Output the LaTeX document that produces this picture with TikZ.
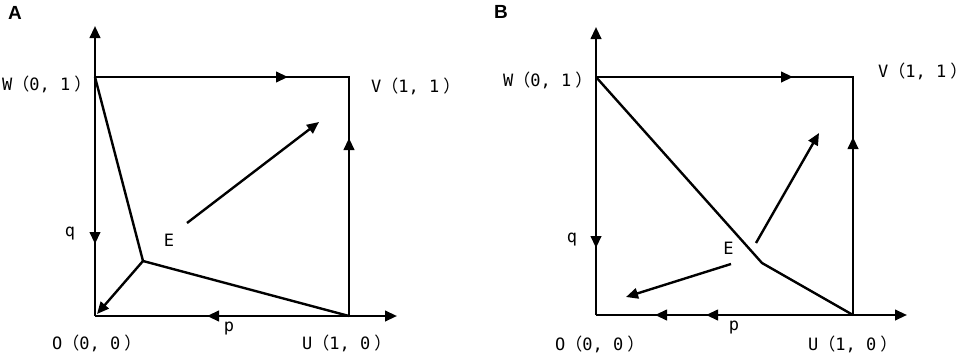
\documentclass[tikz,border=0pt]{standalone}
\usepackage{fontspec}
\setmonofont{DejaVu Sans Mono}
\setsansfont{Liberation Sans}
\newfontfamily\cjkf{Noto Sans CJK SC}
\usetikzlibrary{arrows.meta}
\newcommand{\lp}{{\cjkf （}}
\newcommand{\rp}{\kern4pt{\cjkf ）}\kern-8.5pt}
\tikzset{
  ln/.style={line width=2.4pt, line join=miter, line cap=butt},
  arr/.style={ln, -{Triangle[length=12pt,width=10.5pt]}},
  lbl/.style={font=\ttfamily\fontsize{17}{20}\selectfont, inner sep=0pt},
  panel/.style={font=\sffamily\bfseries\fontsize{19}{22}\selectfont, inner sep=0pt}
}
\begin{document}
\begin{tikzpicture}[x=1pt,y=-1pt]
\useasboundingbox (0,0) rectangle (969,356);
% ---------- Panel A ----------
\node[panel] (A) at (15,12.5) {A};
\coordinate (aO) at (95,316);
\coordinate (aW) at (95,77);
\coordinate (aV) at (349,77);
\coordinate (aU) at (349,316);
\coordinate (aE) at (143,261);
\coordinate (aYt) at (95,26);
\coordinate (aXt) at (397,316);
\coordinate (aTt) at (288,77);
\coordinate (aRt) at (349,138);
\coordinate (aLt) at (95,244);
\coordinate (aBt) at (207,316);
\coordinate (aOt) at (97,314);
\coordinate (aFs) at (187,223);
\coordinate (aFt) at (319,122);
\draw[ln] (aW) -- (aV) -- (aU);
\draw[arr] (aO) -- (aYt);
\draw[arr] (aO) -- (aXt);
\draw[arr] (aW) -- (aTt);
\draw[arr] (aU) -- (aRt);
\draw[arr] (aW) -- (aLt);
\draw[arr] (aU) -- (aBt);
\draw[ln] (aW) -- (aE) -- (aU);
\draw[arr] (aE) -- (aOt);
\draw[arr] (aFs) -- (aFt);
\node[lbl, anchor=west] (aWl) at (2,84.5) {W\lp 0, 1\rp};
\node[lbl, anchor=west] (aVl) at (371,86.5) {V\lp 1, 1\rp};
\node[lbl, anchor=west] (aOl) at (52,343) {O\lp 0, 0\rp};
\node[lbl, anchor=west] (aUl) at (302,343) {U\lp 1, 0\rp};
\node[lbl] (aq) at (70,234) {q};
\node[lbl] (ap) at (229,329) {p};
\node[lbl] (aEl) at (169,240) {E};
% ---------- Panel B ----------
\node[panel] (B) at (501,11.5) {B};
\coordinate (bO) at (596,315);
\coordinate (bW) at (596,77);
\coordinate (bV) at (853,77);
\coordinate (bU) at (853,315);
\coordinate (bE) at (762,263);
\coordinate (bYt) at (596,27);
\coordinate (bXt) at (907,315);
\coordinate (bTt) at (793,77);
\coordinate (bRt) at (853,137);
\coordinate (bLt) at (596,248);
\coordinate (bBt1) at (706,315);
\coordinate (bBt2) at (655,315);
\coordinate (bUs) at (756,243);
\coordinate (bUt) at (819,133);
\coordinate (bDs) at (731,264);
\coordinate (bDt) at (626,297);
\draw[ln] (bW) -- (bV) -- (bU);
\draw[arr] (bO) -- (bYt);
\draw[arr] (bO) -- (bXt);
\draw[arr] (bW) -- (bTt);
\draw[arr] (bU) -- (bRt);
\draw[arr] (bW) -- (bLt);
\draw[arr] (bU) -- (bBt1);
\draw[arr] (bBt1) -- (bBt2);
\draw[ln] (bW) -- (bE) -- (bU);
\draw[arr] (bUs) -- (bUt);
\draw[arr] (bDs) -- (bDt);
\node[lbl, anchor=west] (bWl) at (503,80.5) {W\lp 0, 1\rp};
\node[lbl, anchor=west] (bVl) at (878,71) {V\lp 1, 1\rp};
\node[lbl, anchor=west] (bOl) at (555,344) {O\lp 0, 0\rp};
\node[lbl, anchor=west] (bUl) at (808,344) {U\lp 1, 0\rp};
\node[lbl] (bq) at (572,240) {q};
\node[lbl] (bp) at (734,328) {p};
\node[lbl] (bEl) at (728.5,248) {E};
\end{tikzpicture}
\end{document}
